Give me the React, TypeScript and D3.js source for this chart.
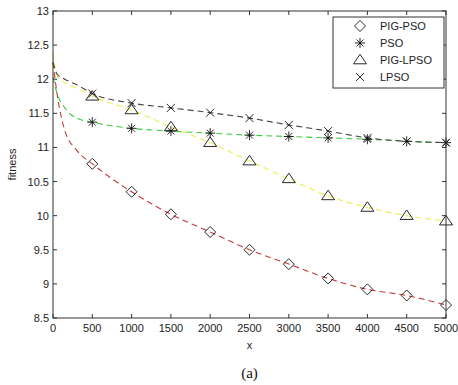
import React from "react";
import * as d3 from "d3";

const startX = [0, 50, 150, 300];
const markerX = [500, 1000, 1500, 2000, 2500, 3000, 3500, 4000, 4500, 5000];

const pigPsoStart = [12.25, 11.8, 11.25, 10.96];
const pigPso = [10.76, 10.35, 10.02, 9.76, 9.5, 9.29, 9.08, 8.92, 8.83, 8.69];
const psoStart = [12.03, 11.8, 11.58, 11.43];
const pso = [11.37, 11.28, 11.24, 11.21, 11.18, 11.16, 11.14, 11.12, 11.09, 11.07];
const pigLpsoStart = [12.38, 12.05, 11.95, 11.87];
const pigLpso = [11.75, 11.55, 11.3, 11.07, 10.8, 10.54, 10.29, 10.12, 10.0, 9.92];
const lpsoStart = [12.25, 12.08, 12.0, 11.92];
const lpso = [11.79, 11.65, 11.58, 11.51, 11.43, 11.33, 11.24, 11.14, 11.09, 11.07];

const xTicks = [0, 500, 1000, 1500, 2000, 2500, 3000, 3500, 4000, 4500, 5000];
const yTicks = [8.5, 9, 9.5, 10, 10.5, 11, 11.5, 12, 12.5, 13];
const seriesNames = ["PIG-PSO", "PSO", "PIG-LPSO", "LPSO"];

const L = 53, R = 446, T = 11, B = 318;

function Marker({ kind, x, y }: { kind: string; x: number; y: number }) {
  const s = "#111";
  if (kind === "PIG-PSO") {
    const r = 5.5;
    return <path d={`M${x},${y - r}L${x + r},${y}L${x},${y + r}L${x - r},${y}Z`} fill="none" stroke={s} strokeWidth={0.9} />;
  }
  if (kind === "PSO") {
    const r = 5;
    const d = r * 0.7;
    return (
      <path
        d={`M${x - r},${y}L${x + r},${y}M${x},${y - r}L${x},${y + r}M${x - d},${y - d}L${x + d},${y + d}M${x - d},${y + d}L${x + d},${y - d}`}
        stroke={s}
        strokeWidth={0.9}
        fill="none"
      />
    );
  }
  if (kind === "PIG-LPSO") {
    const w = 6.5, h = 9.5;
    return <path d={`M${x},${y - h * 0.6}L${x + w},${y + h * 0.4}L${x - w},${y + h * 0.4}Z`} fill="none" stroke={s} strokeWidth={0.9} />;
  }
  const r = 4;
  return <path d={`M${x - r},${y - r}L${x + r},${y + r}M${x - r},${y + r}L${x + r},${y - r}`} stroke={s} strokeWidth={0.9} fill="none" />;
}

export default function App() {
  const x = d3.scaleLinear().domain([0, 5000]).range([L, R]);
  const y = d3.scaleLinear().domain([8.5, 13]).range([B, T]);
  const line = d3
    .line<[number, number]>()
    .x((d) => x(d[0]))
    .y((d) => y(d[1]))
    .curve(d3.curveMonotoneX);

  const series = [
    { name: "PIG-PSO", start: pigPsoStart, vals: pigPso, color: "#c43a3a" },
    { name: "PSO", start: psoStart, vals: pso, color: "#3ccc3c" },
    { name: "PIG-LPSO", start: pigLpsoStart, vals: pigLpso, color: "#eeee50" },
    { name: "LPSO", start: lpsoStart, vals: lpso, color: "#444444" },
  ];

  const font = "Liberation Sans, Arial, Helvetica, sans-serif";

  return (
    <svg width={458} height={385} style={{ position: "absolute", left: 0, top: 0, background: "#fff" }}>
      <rect x={0} y={0} width={458} height={385} fill="#fff" />
      {series.map((s) => {
        const pts: [number, number][] = [
          ...startX.map((v, i) => [v, s.start[i]] as [number, number]),
          ...markerX.map((v, i) => [v, s.vals[i]] as [number, number]),
        ];
        return <path key={s.name} d={line(pts) || ""} fill="none" stroke={s.color} strokeWidth={1.1} strokeDasharray="6,4" />;
      })}
      {series.map((s) =>
        markerX.map((v, i) => <Marker key={s.name + v} kind={s.name} x={x(v)} y={y(s.vals[i])} />)
      )}
      <rect x={L} y={T} width={R - L} height={B - T} fill="none" stroke="#333" strokeWidth={1} />
      {xTicks.map((t) => (
        <g key={"x" + t}>
          <line x1={x(t)} x2={x(t)} y1={B} y2={B - 4} stroke="#333" />
          <line x1={x(t)} x2={x(t)} y1={T} y2={T + 4} stroke="#333" />
          <text x={x(t)} y={B + 14} textAnchor="middle" fontFamily={font} fontSize={11} fill="#222">
            {t}
          </text>
        </g>
      ))}
      {yTicks.map((t) => (
        <g key={"y" + t}>
          <line x1={L} x2={L + 4} y1={y(t)} y2={y(t)} stroke="#333" />
          <line x1={R} x2={R - 4} y1={y(t)} y2={y(t)} stroke="#333" />
          <text x={L - 4} y={y(t) + 4} textAnchor="end" fontFamily={font} fontSize={11} fill="#222">
            {t}
          </text>
        </g>
      ))}
      <text x={(L + R) / 2} y={349} textAnchor="middle" fontFamily={font} fontSize={11} fill="#222">
        x
      </text>
      <text
        transform={`translate(16,${(T + B) / 2}) rotate(-90)`}
        textAnchor="middle"
        fontFamily={font}
        fontSize={11}
        fill="#222"
      >
        fitness
      </text>
      <text x={(L + R) / 2} y={378} textAnchor="middle" fontFamily="Liberation Serif, Times New Roman, serif" fontSize={15} fill="#111">
        (a)
      </text>
      <rect x={333} y={17} width={111} height={71} fill="#fff" stroke="#333" strokeWidth={1} />
      {seriesNames.map((n, i) => (
        <g key={"lg" + n}>
          <Marker kind={n} x={360} y={26 + i * 17} />
          <text x={380} y={30 + i * 17} fontFamily={font} fontSize={11} fill="#222">
            {n}
          </text>
        </g>
      ))}
    </svg>
  );
}
